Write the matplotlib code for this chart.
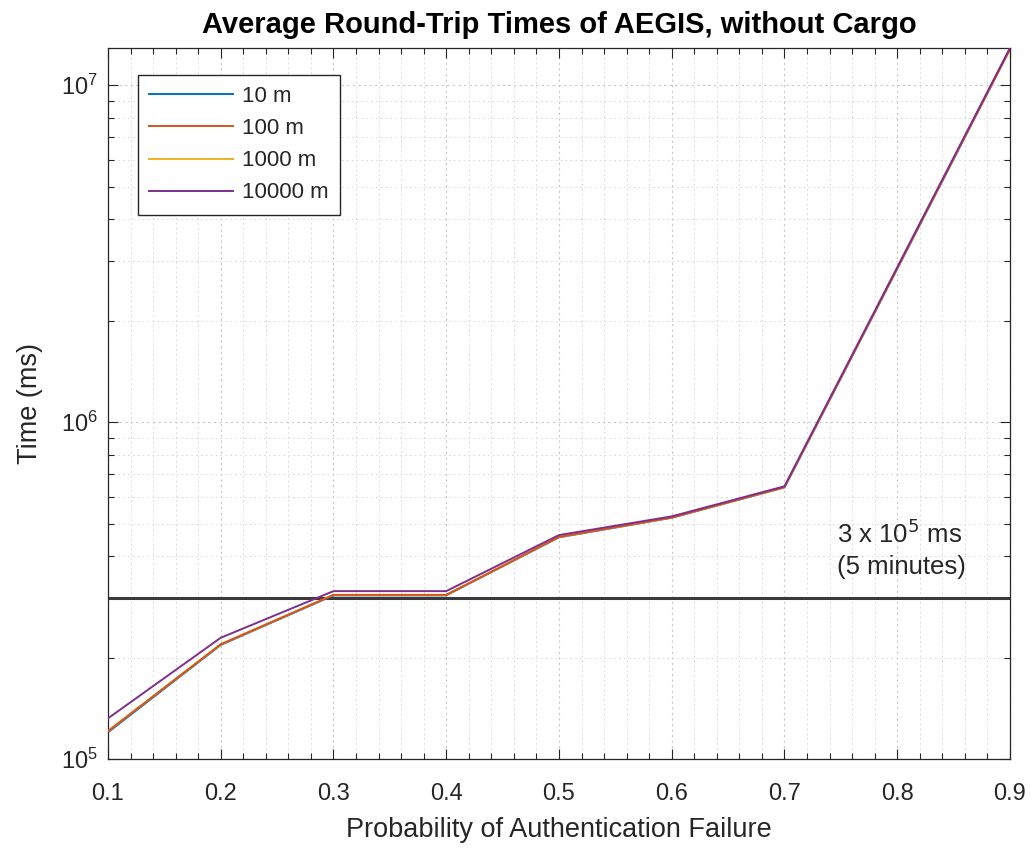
import matplotlib.pyplot as plt
from matplotlib.ticker import MultipleLocator, LogLocator, NullFormatter

plt.rcParams['font.family'] = ['Liberation Sans', 'DejaVu Sans']

# data
prob = [0.1, 0.2, 0.3, 0.4, 0.5, 0.6, 0.7, 0.8, 0.9]
t_10 = [1.20e5, 2.18e5, 3.06e5, 3.06e5, 4.55e5, 5.20e5, 6.40e5, 2.85e6, 1.28e7]
t_100 = [1.21e5, 2.19e5, 3.07e5, 3.07e5, 4.56e5, 5.21e5, 6.41e5, 2.86e6, 1.28e7]
t_1000 = [1.21e5, 2.19e5, 3.07e5, 3.07e5, 4.56e5, 5.21e5, 6.41e5, 2.86e6, 1.28e7]
t_10000 = [1.32e5, 2.29e5, 3.15e5, 3.15e5, 4.62e5, 5.25e5, 6.45e5, 2.88e6, 1.29e7]
labels = ['10 m', '100 m', '1000 m', '10000 m']
threshold = 3e5

colors = ['#0072BD', '#D95319', '#EDB120', '#7E2F8E']
zorders = [2, 4, 3, 5]
axcol = '#262626'

fig = plt.figure(figsize=(10.35, 8.49), dpi=100)
ax = fig.add_axes([0.1043, 0.106, 0.8715, 0.8375])

for ys, lab, c, z in zip([t_10, t_100, t_1000, t_10000], labels, colors, zorders):
    ax.plot(prob, ys, color=c, lw=1.4, label=lab, zorder=z)

ax.axhline(threshold, color='#3a3a3a', lw=2.2, zorder=1.5)
ax.text(0.747, 4.2e5, '3 x 10$^5$ ms\n(5 minutes)', fontsize=18.5, color=axcol,
        ha='left', va='center', linespacing=1.35)

ax.set_yscale('log')
ax.set_xlim(0.1, 0.9)
ax.set_ylim(1e5, 1.29e7)
ax.xaxis.set_major_locator(MultipleLocator(0.1))
ax.xaxis.set_minor_locator(MultipleLocator(0.02))
ax.yaxis.set_major_locator(LogLocator(base=10, numticks=10))
ax.yaxis.set_minor_locator(LogLocator(base=10, subs=range(2, 10), numticks=20))
ax.yaxis.set_minor_formatter(NullFormatter())
ax.set_xticks([0.1, 0.2, 0.3, 0.4, 0.5, 0.6, 0.7, 0.8, 0.9])
ax.set_xticklabels(['0.1', '0.2', '0.3', '0.4', '0.5', '0.6', '0.7', '0.8', '0.9'])

ax.grid(True, which='major', ls=(0, (2, 3)), color='#c8c8c8', lw=0.8)
ax.grid(True, which='minor', ls=(0, (2, 3)), color='#dcdcdc', lw=0.7)
ax.set_axisbelow(True)

ax.tick_params(which='both', direction='in', top=True, right=True, colors=axcol,
               labelsize=17, width=0.8)
ax.tick_params(which='major', length=7)
ax.tick_params(which='minor', length=4)
ax.tick_params(axis='x', which='major', pad=17)
ax.tick_params(axis='y', which='major', pad=7)
for s in ax.spines.values():
    s.set_color(axcol)
    s.set_linewidth(0.9)

ax.set_xlabel('Probability of Authentication Failure', fontsize=19.5, color=axcol,
              labelpad=9)
ax.set_ylabel('Time (ms)', fontsize=19.5, color=axcol, labelpad=13)
ax.set_title('Average Round-Trip Times of AEGIS, without Cargo', fontsize=21,
             fontweight='bold', color='black', pad=11)

leg = ax.legend(loc='upper left', bbox_to_anchor=(0.033, 0.962), fontsize=16,
                handlelength=3.8, fancybox=False, framealpha=1, borderpad=0.5,
                labelspacing=0.5, handletextpad=0.4, borderaxespad=0)
leg.get_frame().set_edgecolor(axcol)
leg.get_frame().set_linewidth(1.0)
for t in leg.get_texts():
    t.set_color(axcol)

fig.savefig('out.png', dpi=100)
